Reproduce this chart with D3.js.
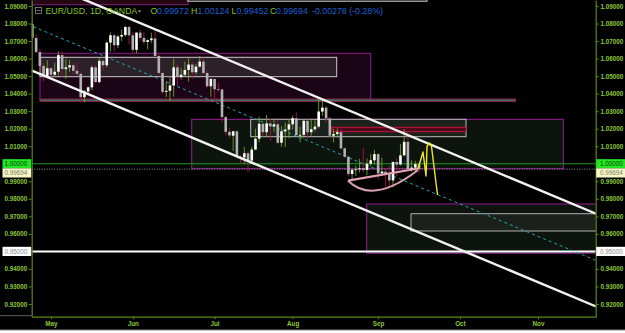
<!DOCTYPE html>
<html><head><meta charset="utf-8">
<script src="https://cdn.jsdelivr.net/npm/d3@7"></script>
<style>html,body{margin:0;padding:0;background:#fff}svg{display:block}</style>
</head><body>
<svg id="c" width="625" height="333"></svg>
<script>
// ---------- DATA ----------
const dates = ["2022-04-25","2022-04-26","2022-04-27","2022-04-28","2022-04-29",
"2022-05-02","2022-05-03","2022-05-04","2022-05-05","2022-05-06","2022-05-09","2022-05-10","2022-05-11","2022-05-12","2022-05-13",
"2022-05-16","2022-05-17","2022-05-18","2022-05-19","2022-05-20","2022-05-23","2022-05-24","2022-05-25","2022-05-26","2022-05-27",
"2022-05-30","2022-05-31","2022-06-01","2022-06-02","2022-06-03","2022-06-06","2022-06-07","2022-06-08","2022-06-09","2022-06-10",
"2022-06-13","2022-06-14","2022-06-15","2022-06-16","2022-06-17","2022-06-20","2022-06-21","2022-06-22","2022-06-23","2022-06-24",
"2022-06-27","2022-06-28","2022-06-29","2022-06-30","2022-07-01","2022-07-04","2022-07-05","2022-07-06","2022-07-07","2022-07-08",
"2022-07-11","2022-07-12","2022-07-13","2022-07-14","2022-07-15","2022-07-18","2022-07-19","2022-07-20","2022-07-21","2022-07-22",
"2022-07-25","2022-07-26","2022-07-27","2022-07-28","2022-07-29","2022-08-01","2022-08-02","2022-08-03","2022-08-04","2022-08-05",
"2022-08-08","2022-08-09","2022-08-10","2022-08-11","2022-08-12","2022-08-15","2022-08-16","2022-08-17","2022-08-18","2022-08-19",
"2022-08-22","2022-08-23","2022-08-24","2022-08-25","2022-08-26","2022-08-29","2022-08-30","2022-08-31","2022-09-01","2022-09-02",
"2022-09-05","2022-09-06","2022-09-07","2022-09-08","2022-09-09","2022-09-12","2022-09-13","2022-09-14","2022-09-15","2022-09-16"];
const open = [1.0797,1.0718,1.0637,1.0558,1.0499,
1.0545,1.0508,1.0525,1.0620,1.0540,1.0550,1.0562,1.0530,1.0513,1.0380,
1.0412,1.0436,1.0550,1.0466,1.0587,1.0562,1.0691,1.0733,1.0676,1.0726,
1.0735,1.0780,1.0733,1.0650,1.0748,1.0718,1.0695,1.0705,1.0715,1.0615,
1.0518,1.0410,1.0416,1.0447,1.0550,1.0495,1.0508,1.0535,1.0566,1.0522,
1.0554,1.0583,1.0518,1.0442,1.0484,1.0425,1.0424,1.0266,1.0182,1.0160,
1.0185,1.0040,1.0036,1.0060,1.0018,1.0081,1.0143,1.0228,1.0180,1.0230,
1.0213,1.0225,1.0120,1.0185,1.0195,1.0225,1.0260,1.0163,1.0165,1.0245,
1.0180,1.0197,1.0212,1.0298,1.0320,1.0259,1.0160,1.0170,1.0180,1.0088,
1.0040,0.9942,0.9966,0.9968,0.9974,0.9965,1.0000,1.0020,1.0055,0.9945,
0.9955,0.9940,0.9905,1.0010,0.9996,1.0048,1.0125,0.9970,0.9978,0.99972];
const high = [1.0820,1.0738,1.0657,1.0575,1.0592,
1.0550,1.0576,1.0641,1.0641,1.0598,1.0592,1.0575,1.0577,1.0520,1.0420,
1.0442,1.0560,1.0565,1.0606,1.0595,1.0697,1.0749,1.0740,1.0735,1.0766,
1.0787,1.0787,1.0750,1.0750,1.0765,1.0750,1.0710,1.0748,1.0774,1.0630,
1.0520,1.0470,1.0500,1.0601,1.0565,1.0545,1.0583,1.0606,1.0580,1.0570,
1.0615,1.0606,1.0530,1.0488,1.0486,1.0462,1.0430,1.0275,1.0203,1.0188,
1.0190,1.0050,1.0096,1.0070,1.0098,1.0200,1.0269,1.0235,1.0278,1.0255,
1.0258,1.0250,1.0215,1.0235,1.0255,1.0275,1.0294,1.0212,1.0254,1.0253,
1.0250,1.0248,1.0368,1.0365,1.0330,1.0268,1.0200,1.0202,1.0195,1.0093,
1.0045,0.9970,0.9990,1.0028,1.0090,1.0030,1.0055,1.0080,1.0060,1.0035,
0.9975,0.9990,1.0012,1.0030,1.0112,1.0198,1.0187,1.0020,1.0017,1.00124];
const low = [1.0700,1.0631,1.0515,1.0471,1.0488,
1.0490,1.0494,1.0505,1.0493,1.0483,1.0524,1.0510,1.0500,1.0350,1.0350,
1.0390,1.0420,1.0460,1.0460,1.0532,1.0550,1.0640,1.0640,1.0660,1.0700,
1.0725,1.0680,1.0627,1.0630,1.0700,1.0680,1.0653,1.0690,1.0610,1.0507,
1.0398,1.0380,1.0358,1.0382,1.0445,1.0480,1.0500,1.0470,1.0486,1.0510,
1.0550,1.0512,1.0435,1.0382,1.0365,1.0410,1.0236,1.0162,1.0144,1.0072,
1.0036,0.9998,0.9998,0.9952,1.0005,1.0078,1.0122,1.0155,1.0152,1.0130,
1.0180,1.0110,1.0097,1.0095,1.0145,1.0195,1.0160,1.0123,1.0145,1.0141,
1.0160,1.0185,1.0202,1.0273,1.0235,1.0150,1.0122,1.0150,1.0080,1.0033,
0.9926,0.9900,0.9930,0.9950,0.9950,0.9935,0.9985,0.9995,0.9910,0.9935,
0.9870,0.9865,0.9865,0.9930,0.9990,1.0045,0.9966,0.9955,0.9955,0.99452];
const close = [1.0718,1.0637,1.0558,1.0499,1.0545,
1.0508,1.0525,1.0620,1.0540,1.0550,1.0562,1.0530,1.0513,1.0380,1.0412,
1.0436,1.0550,1.0466,1.0587,1.0562,1.0691,1.0733,1.0676,1.0726,1.0735,
1.0780,1.0733,1.0650,1.0748,1.0718,1.0695,1.0705,1.0715,1.0615,1.0518,
1.0410,1.0416,1.0447,1.0550,1.0495,1.0508,1.0535,1.0566,1.0522,1.0554,
1.0583,1.0518,1.0442,1.0484,1.0425,1.0424,1.0266,1.0182,1.0162,1.0185,
1.0040,1.0036,1.0060,1.0018,1.0081,1.0143,1.0228,1.0180,1.0230,1.0213,
1.0225,1.0120,1.0185,1.0195,1.0225,1.0260,1.0163,1.0165,1.0245,1.0180,
1.0197,1.0212,1.0298,1.0320,1.0259,1.0160,1.0170,1.0180,1.0088,1.0040,
0.9942,0.9966,0.9968,0.9974,0.9965,1.0000,1.0020,1.0055,0.9945,0.9955,
0.9940,0.9905,1.0010,0.9996,1.0048,1.0125,0.9970,0.9978,0.9998,0.99694];

const priceTicks = [1.09,1.08,1.07,1.06,1.05,1.04,1.03,1.02,1.01,0.99,0.98,0.97,0.96,0.94,0.93,0.92];
const monthTickDates = ["2022-05-02","2022-06-01","2022-07-01","2022-08-01","2022-09-01","2022-10-03","2022-11-01"];
const monthLabels = ["May","Jun","Jul","Aug","Sep","Oct","Nov"];
const parityLevel = 1.00000, lastPrice = 0.99694, supportLevel = 0.95000;
const titleParts = {sym:"EUR/USD, 1D, OANDA", o:"0.99972", h:"1.00124", l:"0.99452", c:"0.99694", chg:"-0.00278 (-0.28%)"};

// drawings, in (bar index from 2 May, price)
const boxes = [
  {i0:-10, i1:36.85, p0:1.10, p1:1.09074, fill:"#260812", stroke:"#7d1f78"},
  {i0:36.85, i1:101.14, p0:1.10, p1:1.09274, fill:"#101010", stroke:"#d8d8d8"},
  {i0:-2.96, i1:86.0, p0:1.06302, p1:1.03638, fill:"#1a0416", stroke:"#8e1e8c"},
  {i0:-2.96, i1:76.85, p0:1.06073, p1:1.04967, fill:"#2c2029", stroke:"#c8c8c8"},
  {i0:-2.96, i1:124.95, p0:1.03695, p1:1.03552, fill:"#3a6a6a", stroke:"#8a1f3a"},
  {i0:37.85, i1:137.8, p0:1.02536, p1:0.99718, fill:"#0d130d", stroke:"#961e96"},
  {i0:53.72, i1:111.63, p0:1.02536, p1:1.01544, fill:"#1b211b", stroke:"#bdbdbd"},
  {i0:75.51, i1:111.63, p0:1.02080, p1:1.01829, fill:"#4e0a1c", stroke:"#c4163e"},
  {i0:84.92, i1:150, p0:0.97704, p1:0.94892, fill:"#0d130d", stroke:"#961e96"},
  {i0:96.84, i1:150, p0:0.97151, p1:0.96164, fill:"#1b201b", stroke:"#b0b0b0"}
];
const channelUpper = [[5,1.0971],[146.6,0.97150]];
const channelLower = [[-5.3,1.05325],[146.6,0.91860]];
const channelMid   = [[-4.76,1.07819],[146.6,0.94487]];
const yellowPath = [[98.72,0.99701],[100.07,1.00671],[100.88,0.99302],[101.15,1.01013],[101.81,1.01184],[102.35,1.00985],[103.97,0.98218]];
const pinkLine = [[79.89,0.99034],[98.72,0.99730]];
const pinkCurve = [[79.89,0.99034],[86.62,0.97647],[98.72,0.99644]];

// ---------- CHART ----------
const svg = d3.select("#c");
const W = 625, H = 333;
const L = 31.7, R = 595.7, T = 0, B = 316.7;

// trading-day calendar (weekdays)
const cal = [];
for (let d = new Date(Date.UTC(2022,3,25)); d <= new Date(Date.UTC(2022,11,30)); d.setUTCDate(d.getUTCDate()+1)) {
  const wd = d.getUTCDay(); if (wd>0 && wd<6) cal.push(d.toISOString().slice(0,10));
}
const base = cal.indexOf("2022-05-02");
const idx = s => cal.indexOf(s) - base;

const x = d3.scaleLinear().domain([-5.19, 146.52]).range([L, R]);
const y = d3.scaleLinear().domain([0.91275, 1.093423]).range([B, T]);

svg.append("rect").attr("width", W).attr("height", H).attr("fill", "#fff");
svg.append("rect").attr("width", W).attr("height", 330).attr("fill", "#000");

svg.append("defs").append("clipPath").attr("id","pc").append("rect")
  .attr("x", L).attr("y", T).attr("width", R-L).attr("height", B-T);
const plot = svg.append("g").attr("clip-path","url(#pc)");

// boxes
plot.selectAll("rect.box").data(boxes).join("rect").attr("class","box")
  .attr("x", d => x(d.i0)).attr("y", d => y(d.p0))
  .attr("width", d => x(d.i1)-x(d.i0)).attr("height", d => y(d.p1)-y(d.p0))
  .attr("fill", d => d.fill).attr("stroke", d => d.stroke).attr("stroke-width", 1);

// horizontal levels
plot.append("line").attr("x1",L).attr("x2",R).attr("y1",y(parityLevel)).attr("y2",y(parityLevel))
  .attr("stroke","#1f9a1f").attr("stroke-width",1.1);
plot.append("line").attr("x1",L).attr("x2",R).attr("y1",y(supportLevel)).attr("y2",y(supportLevel))
  .attr("stroke","#ffffff").attr("stroke-width",2);
plot.append("line").attr("x1",L).attr("x2",R).attr("y1",y(lastPrice)).attr("y2",y(lastPrice))
  .attr("stroke","#9a9a9a").attr("stroke-width",1).attr("stroke-dasharray","1,1.5");

const line = d3.line().x(d => x(d[0])).y(d => y(d[1]));
plot.append("path").attr("d", line(channelMid)).attr("fill","none")
  .attr("stroke","#25a5b5").attr("stroke-width",1).attr("stroke-dasharray","3,3");

// candles
const candles = dates.map((d,k) => ({i: idx(d), o: open[k], h: high[k], l: low[k], c: close[k]}));
const cg = plot.append("g");
cg.selectAll("line.wick").data(candles).join("line").attr("class","wick")
  .attr("x1", d => x(d.i)).attr("x2", d => x(d.i))
  .attr("y1", d => y(d.h)).attr("y2", d => y(d.l))
  .attr("stroke", d => d.c >= d.o ? "#6da521" : "#a8144c").attr("stroke-width", 0.9);
cg.selectAll("rect.body").data(candles).join("rect").attr("class","body")
  .attr("x", d => x(d.i)-1.3).attr("width", 2.6)
  .attr("y", d => y(Math.max(d.o,d.c)))
  .attr("height", d => Math.max(0.8, Math.abs(y(d.o)-y(d.c))))
  .attr("fill", d => d.c >= d.o ? "#ffffff" : "#b2b2b2");

// channel lines
[channelUpper, channelLower].forEach(pts => {
  plot.append("path").attr("d", line(pts)).attr("fill","none")
    .attr("stroke","#f2f2f2").attr("stroke-width",2.4);
});

// pink cup
plot.append("path").attr("d", line(pinkLine)).attr("fill","none")
  .attr("stroke","#e3a3b6").attr("stroke-width",2.2);
plot.append("path").attr("d",
  `M${x(pinkCurve[0][0])},${y(pinkCurve[0][1])} Q${x(pinkCurve[1][0])},${y(pinkCurve[1][1])} ${x(pinkCurve[2][0])},${y(pinkCurve[2][1])}`)
  .attr("fill","none").attr("stroke","#d9a0b2").attr("stroke-width",2);
// yellow projection
plot.append("path").attr("d", line(yellowPath)).attr("fill","none")
  .attr("stroke","#f0ea1a").attr("stroke-width",1.4).attr("stroke-linejoin","round");

// axes
const axisColor = "#5a8a12", labelColor = "#8cc83a";
const fmt = d3.format(".5f");
function styleAxis(g){
  g.select(".domain").attr("stroke", axisColor).attr("stroke-width",1.2);
  g.selectAll(".tick line").attr("stroke", axisColor);
  g.selectAll(".tick text").attr("fill", labelColor).attr("font-family","Liberation Sans, Arial, sans-serif")
    .attr("font-size", 6.3).attr("font-weight","bold");
}
svg.append("g").attr("transform",`translate(${L},0)`)
  .call(d3.axisLeft(y).tickValues(priceTicks).tickFormat(fmt).tickSize(3).tickPadding(1.5).tickSizeOuter(0))
  .call(styleAxis);
svg.append("g").attr("transform",`translate(${R},0)`)
  .call(d3.axisRight(y).tickValues(priceTicks).tickFormat(fmt).tickSize(3).tickPadding(1.8).tickSizeOuter(0))
  .call(styleAxis);
const monthIdx = monthTickDates.map(idx);
svg.append("g").attr("transform",`translate(0,${B})`)
  .call(d3.axisBottom(x).tickValues(monthIdx).tickFormat((d,k) => monthLabels[k]).tickSize(2.5).tickPadding(2.5).tickSizeOuter(0))
  .call(styleAxis);
svg.append("line").attr("x1",0).attr("x2",L).attr("y1",B-1).attr("y2",B-1).attr("stroke","#777").attr("stroke-width",0.8);
svg.append("line").attr("x1",0).attr("x2",W).attr("y1",330).attr("y2",330).attr("stroke","#888").attr("stroke-width",1);

// special price labels
const specials = [
  {p: parityLevel, dy: 0, bg:"#22e622", fg:"#0b3a0b"},
  {p: lastPrice, dy: 3.8, bg:"#f6f6c6", fg:"#7a7a6a"},
  {p: supportLevel, dy: 0, bg:"#ffffff", fg:"#8a8a8a"}
];
specials.forEach(s => {
  const cy = y(s.p) + s.dy;
  [[2.5, L-0.5, "end", L-4.5], [R+0.5, W, "start", R+4.3]].forEach(([x0,x1,anchor,tx]) => {
    svg.append("rect").attr("x",x0).attr("y",cy-4.6).attr("width",x1-x0).attr("height",9.2).attr("fill",s.bg);
    svg.append("text").attr("x",tx).attr("y",cy).attr("dy","0.34em").attr("text-anchor",anchor)
      .attr("font-family","Liberation Sans, Arial, sans-serif").attr("font-size",6.3)
      .attr("fill",s.fg).text(fmt(s.p));
  });
});

// title / legend
const tf = "Liberation Sans, Arial, sans-serif";
svg.append("rect").attr("x",35.5).attr("y",7.5).attr("width",6).attr("height",6).attr("fill","none").attr("stroke","#8a8a8a").attr("stroke-width",0.8);
svg.append("line").attr("x1",36.5).attr("x2",40.5).attr("y1",10.5).attr("y2",10.5).attr("stroke","#8a8a8a").attr("stroke-width",0.8);
const green = "#82c322", blue = "#1f5fd6";
function tx(xp, str, col){ svg.append("text").attr("x",xp).attr("y",14).attr("font-family",tf).attr("font-size",8.8).attr("fill",col).text(str); }
tx(45.5, titleParts.sym, green);
svg.append("path").attr("d","M137.5,10.5 L141.5,10.5 L139.5,12.5 Z").attr("fill","#a0a0a0");
tx(150.5, "O", green); tx(157, titleParts.o, blue);
tx(191, "H", green);   tx(197.5, titleParts.h, blue);
tx(231.5, "L", green); tx(236.5, titleParts.l, blue);
tx(270, "C", green);   tx(276, titleParts.c, blue);
tx(312, titleParts.chg, blue);
</script>
</body></html>
